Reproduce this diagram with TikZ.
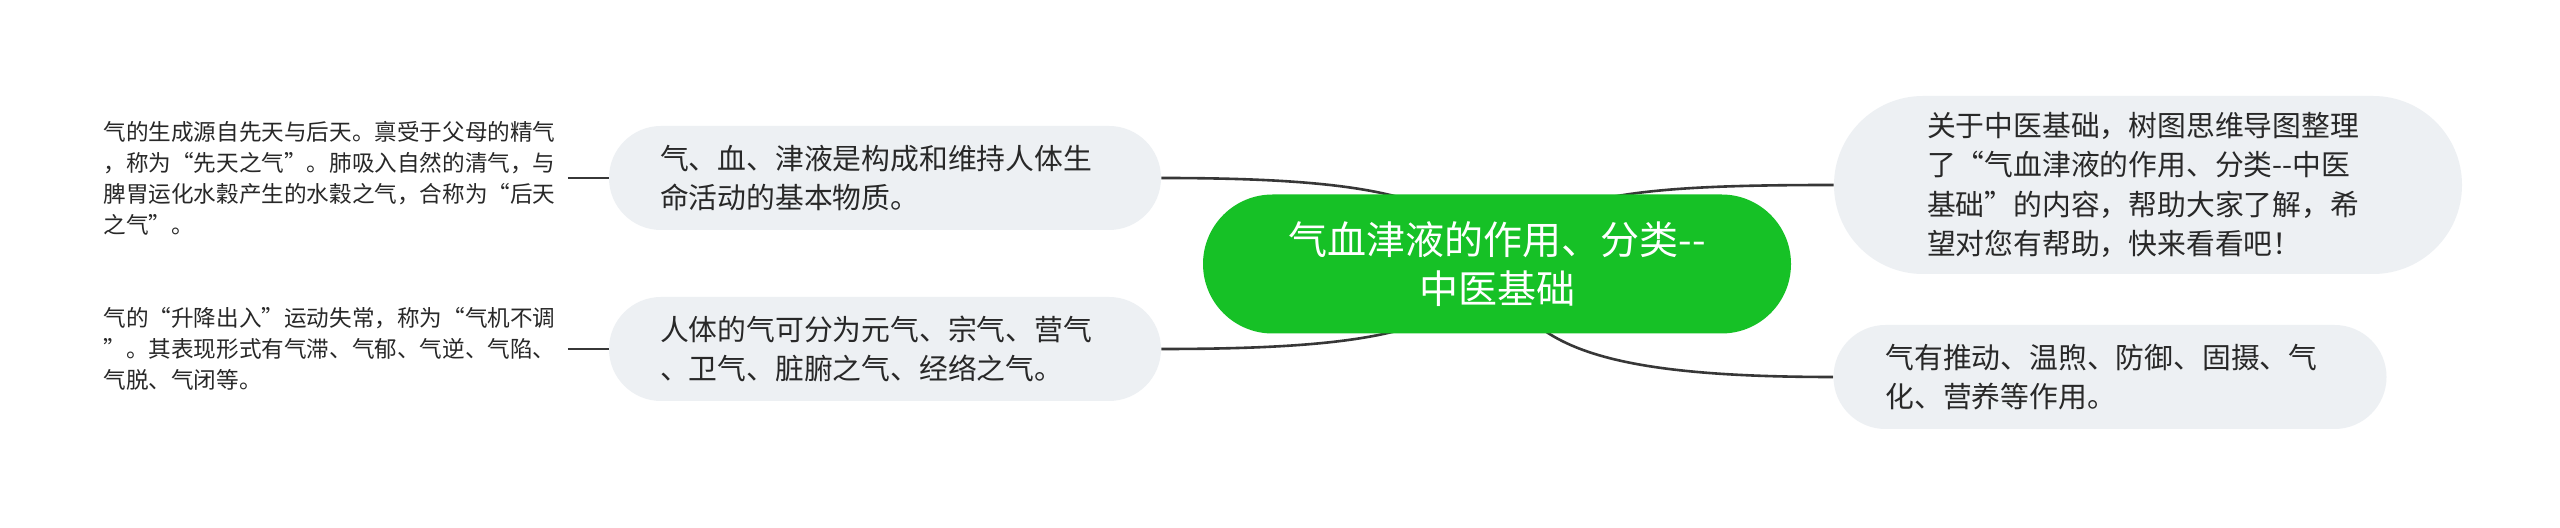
\documentclass[tikz,border=0pt]{standalone}
\usepackage{fontspec}
\newfontfamily\cjk{Noto Sans CJK SC}
\usetikzlibrary{calc}
\pgfdeclarelayer{bg}
\pgfsetlayers{bg,main}
\definecolor{cgreen}{RGB}{22,193,38}
\definecolor{pillgray}{RGB}{237,240,243}
\definecolor{txt}{RGB}{40,40,40}
\definecolor{edgec}{RGB}{55,55,55}
\tikzset{
  central/.style={fill=cgreen, text=white, rounded corners=34.75pt, minimum width=294pt,
    minimum height=69.5pt, align=center, inner sep=0pt, font=\cjk\fontsize{19.5}{24.5}\selectfont},
  pill/.style={fill=pillgray, text=txt, align=left, inner sep=0pt,
    font=\cjk\fontsize{14.4}{19.6}\selectfont},
  leaf/.style={text=txt, align=left, inner xsep=6pt, inner ysep=0pt, anchor=west,
    font=\cjk\fontsize{11.3}{15.5}\selectfont},
  link/.style={draw=edgec, line width=1.3pt},
  leafline/.style={draw=edgec, line width=1.3pt}
}
\begin{document}
\begin{tikzpicture}[x=0.5pt, y=-0.5pt]
\useasboundingbox (0,0) rectangle (2560,528);

\node[central] (c) at (1497,264) {气血津液的作用、分类-{}-\\中医基础};

\node[pill, minimum width=276pt, minimum height=52pt, rounded corners=26pt, text width=225pt]
  (tl) at (885,178) {气、血、津液是构成和维持人体生\\命活动的基本物质。};
\node[pill, minimum width=276pt, minimum height=52pt, rounded corners=26pt, text width=225pt]
  (bl) at (885,349) {人体的气可分为元气、宗气、营气\\、卫气、脏腑之气、经络之气。};
\node[pill, minimum width=314pt, minimum height=89pt, rounded corners=44.5pt, text width=221pt]
  (rt) at (2148,185) {关于中医基础，树图思维导图整理\\了“气血津液的作用、分类-{}-中医\\基础”的内容，帮助大家了解，希\\望对您有帮助，快来看看吧！};
\node[pill, minimum width=276.5pt, minimum height=52pt, rounded corners=26pt, text width=224.5pt]
  (rb) at (2110,377) {气有推动、温煦、防御、固摄、气\\化、营养等作用。};

\node[leaf] (l1) at (91,178) {气的生成源自先天与后天。禀受于父母的精气\\，称为“先天之气”。肺吸入自然的清气，与\\脾胃运化水穀产生的水穀之气，合称为“后天\\之气”。};
\node[leaf] (l2) at (91,349) {气的“升降出入”运动失常，称为“气机不调\\”。其表现形式有气滞、气郁、气逆、气陷、\\气脱、气闭等。};

\begin{pgfonlayer}{bg}
\fill[white] (0,0) rectangle (2560,528);
\draw[link] (tl.east) .. controls +(220,0) and +(-40,-65) .. (c.center);
\draw[link] (bl.east) .. controls +(220,0) and +(-40,65) .. (c.center);
\draw[link] (rt.west) .. controls +(-200,0) and +(40,-70) .. (c.center);
\draw[link] (rb.west) .. controls +(-240,0) and +(25,80) .. (c.center);
\end{pgfonlayer}
\draw[leafline] (l1.east) -- (tl.west);
\draw[leafline] (l2.east) -- (bl.west);
\end{tikzpicture}
\end{document}
